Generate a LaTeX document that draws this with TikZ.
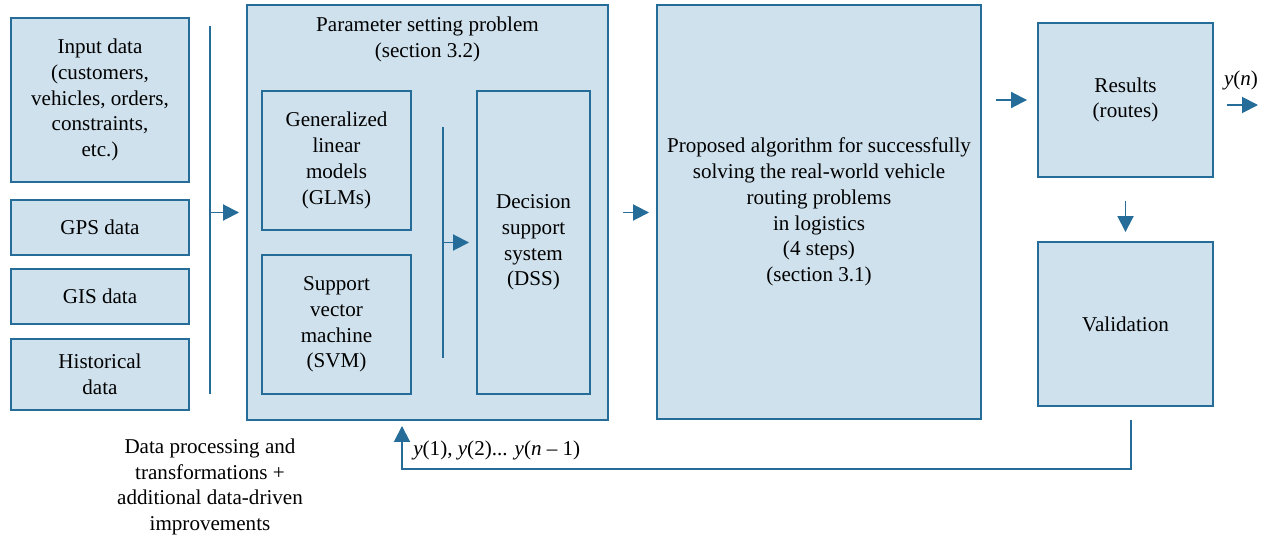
\documentclass[tikz,border=0pt]{standalone}
\usepackage{fontspec}
\setmainfont{Liberation Serif}
\usetikzlibrary{arrows.meta}

\definecolor{boxfill}{RGB}{207,225,237}
\definecolor{boxline}{RGB}{38,108,152}

\begin{document}
\begin{tikzpicture}[
            x=0.2mm, y=-0.2mm, % 以像素为单位
            every node/.style={
                align=center, % 居中对齐
                font=\fontsize{12}{14.7}\selectfont % 字体大小
            },
            box/.style={
                draw=boxline, % 边框颜色
                fill=boxfill, % 填充颜色
                line width=1.1pt, % 线宽
                inner sep=2pt % 内边距
            },
            bar/.style={draw=boxline, line width=1.1pt}, % 竖线
            arr/.style={draw=boxline, line width=1.1pt, -{Triangle[length=3.2mm,width=3.2mm]}} % 箭头
        ]

        % 画布大小
        \useasboundingbox (0,0) rectangle (1270,539);

        % 输入数据
        \node[box, minimum width=3.56cm, minimum height=3.28cm] (input) at (100,100)
            {Input data\\(customers,\\vehicles, orders,\\constraints,\\etc.)};
        \node[box, minimum width=3.56cm, minimum height=1.1cm] (gps) at (100,227.5) {GPS data};
        \node[box, minimum width=3.56cm, minimum height=1.1cm] (gis) at (100,296.5) {GIS data};
        \node[box, minimum width=3.56cm, minimum height=1.42cm] (hist) at (100,374.5) {Historical\\data};

        % 参数设置问题
        \node[box, minimum width=7.22cm, minimum height=8.3cm] (param) at (427.5,212.5) {};
        \node[anchor=north] (paramtitle) at (427.5,11) {Parameter setting problem\\(section 3.2)};
        \node[box, minimum width=2.98cm, minimum height=2.78cm] (glm) at (336.5,160.5)
            {Generalized\\linear\\models\\(GLMs)};
        \node[box, minimum width=2.98cm, minimum height=2.78cm] (svm) at (336.5,324.5)
            {Support\\vector\\machine\\(SVM)};
        \node[box, minimum width=2.26cm, minimum height=6.06cm] (dss) at (533.5,242.5)
            {Decision\\support\\system\\(DSS)};

        % 算法与结果
        \node[box, minimum width=6.48cm, minimum height=8.28cm] (algo) at (819,212)
            {Proposed algorithm for successfully\\solving the real-world vehicle\\routing problems\\in logistics\\(4 steps)\\(section 3.1)};
        \node[box, minimum width=3.5cm, minimum height=3.08cm] (results) at (1125.5,100) {Results\\(routes)};
        \node[box, minimum width=3.5cm, minimum height=3.28cm] (valid) at (1125.5,324) {Validation};

        % 竖线
        \coordinate (bar1top) at (210,26);
        \coordinate (bar1bot) at (210,394);
        \draw[bar] (bar1top) -- (bar1bot);
        \coordinate (bar2top) at (443,127);
        \coordinate (bar2bot) at (443,358);
        \draw[bar] (bar2top) -- (bar2bot);

        % 箭头
        \draw[arr, shorten >=1.4mm] (bar1top |- param.west) -- (param.west);
        \draw[arr, shorten >=1.4mm] (bar2top |- dss.west) -- (dss.west);
        \draw[arr, shorten <=2.8mm, shorten >=1.4mm] (param.east) -- (param.east -| algo.west);
        \draw[arr, shorten <=2.8mm, shorten >=2mm] (algo.east |- results.west) -- (results.west);
        \coordinate (out) at (1258,105);
        \draw[arr, shorten <=2.6mm] (results.east |- out) -- (out);
        \node[anchor=base] (yn) at (1241,85) {\textit{y}(\textit{n})};
        \draw[arr, shorten <=4.6mm, shorten >=1.8mm] (results.south) -- (valid.north);

        % 反馈
        \coordinate (fbstart) at (1131,420);
        \coordinate (fbend) at (402,469);
        \draw[arr, shorten >=1mm] (fbstart) |- (fbend) -- (fbend |- param.south);
        \node[anchor=base west, inner sep=0pt] (fblabel) at (413,455)
            {\textit{y}(1), \textit{y}(2)... \textit{y}(\textit{n} – 1)};

        % 说明
        \node (note) at (210,487)
            {Data processing and\\transformations +\\additional data-driven\\improvements};
\end{tikzpicture}
\end{document}
